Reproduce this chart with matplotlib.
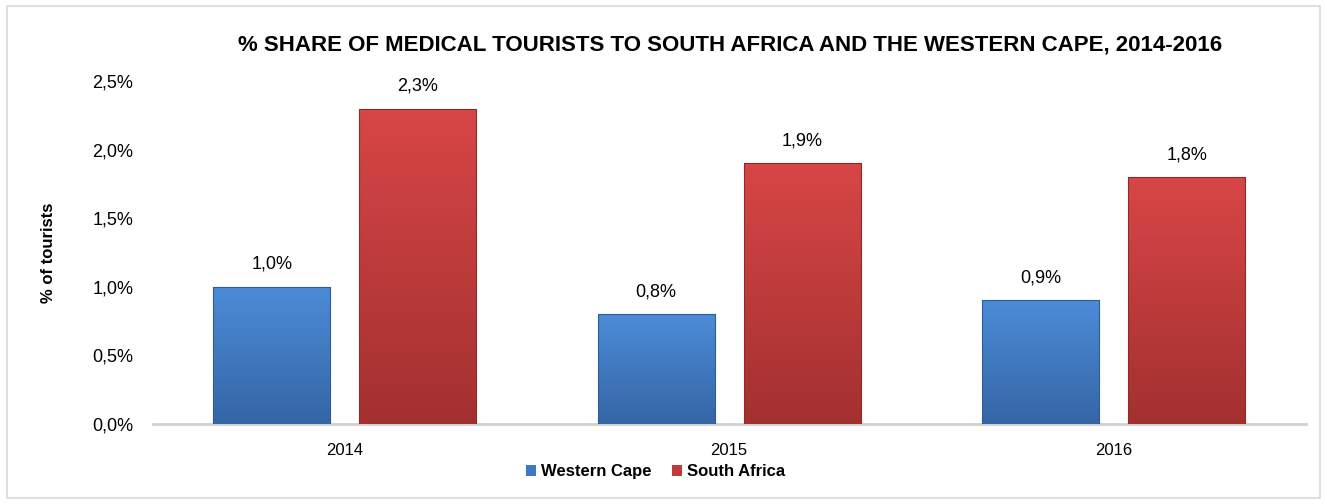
import numpy as np
import matplotlib.pyplot as plt
from matplotlib import font_manager
from matplotlib.patches import Rectangle
from matplotlib.colors import LinearSegmentedColormap

years = ["2014", "2015", "2016"]
western_cape = [1.0, 0.8, 0.9]
south_africa = [2.3, 1.9, 1.8]
yticks = [0.0, 0.5, 1.0, 1.5, 2.0, 2.5]

names = {f.name for f in font_manager.fontManager.ttflist}
fam = "Liberation Sans Narrow" if "Liberation Sans Narrow" in names else "Liberation Sans"
plt.rcParams['font.family'] = [fam, 'DejaVu Sans']


def pct(v):
    return ("%.1f%%" % v).replace(".", ",")


def shade(ax, bars, top, bottom):
    # vertical gradient clipped to each bar
    cmap = LinearSegmentedColormap.from_list("g", [bottom, top])
    grad = np.linspace(0, 1, 256).reshape(-1, 1)
    for b in bars:
        x0, y0 = b.get_x(), b.get_y()
        w, h = b.get_width(), b.get_height()
        im = ax.imshow(grad, cmap=cmap, aspect='auto', origin='lower',
                       extent=[x0, x0 + w, y0, y0 + h], zorder=3)
        im.set_clip_path(b)


fig = plt.figure(figsize=(13.27, 5.04), dpi=100)
ax = fig.add_axes([0.115, 0.159, 0.869, 0.680])

x = np.arange(len(years))
w = 0.305
off = 0.19
b1 = ax.bar(x - off, western_cape, w, color="#3f78c0", zorder=2, label="Western Cape")
b2 = ax.bar(x + off, south_africa, w, color="#bf3a38", zorder=2, label="South Africa")
shade(ax, b1, "#4c8cd8", "#3566a6")
shade(ax, b2, "#d84646", "#a33030")
# darker outline on top of gradient
for b, c in [(bb, "#2f5c96") for bb in b1] + [(bb, "#8e2a2a") for bb in b2]:
    ax.add_patch(Rectangle((b.get_x(), b.get_y()), b.get_width(), b.get_height(),
                           fill=False, edgecolor=c, linewidth=0.8, zorder=4))

for bars, vals in [(b1, western_cape), (b2, south_africa)]:
    for b, v in zip(bars, vals):
        ax.annotate(pct(v), (b.get_x() + b.get_width() / 2, v), xytext=(0, 10),
                    textcoords="offset points", ha="center", va="bottom", fontsize=13)

ax.set_xlim(-0.5, 2.5)
ax.set_ylim(0, 2.5)
ax.set_xticks(x)
ax.set_xticklabels(years, fontsize=12)
ax.set_yticks(yticks)
ax.set_yticklabels([pct(v) for v in yticks], fontsize=13)
ax.tick_params(length=0, pad=14)
ax.tick_params(axis='x', pad=14)
for s in ["top", "right", "left"]:
    ax.spines[s].set_visible(False)
ax.spines["bottom"].set_color("#d0d0d0")
ax.spines["bottom"].set_linewidth(2)
ax.set_ylabel("% of tourists", fontsize=12, fontweight="bold", labelpad=26)

fig.text(0.550, 0.91, "% SHARE OF MEDICAL TOURISTS TO SOUTH AFRICA AND THE WESTERN CAPE, 2014-2016",
         ha="center", va="center", fontsize=16, fontweight="bold")

ax.legend(loc="center", bbox_to_anchor=(0.436, -0.14), ncol=2, frameon=False,
          prop={"weight": "bold", "size": 12}, handlelength=0.6, handleheight=0.6,
          handletextpad=0.3, columnspacing=1.2)

fig.patches.append(Rectangle((0.005, 0.012), 0.99, 0.976, transform=fig.transFigure,
                             fill=False, edgecolor="#d9d9d9", linewidth=1.2))

fig.savefig("out.png", dpi=100)
